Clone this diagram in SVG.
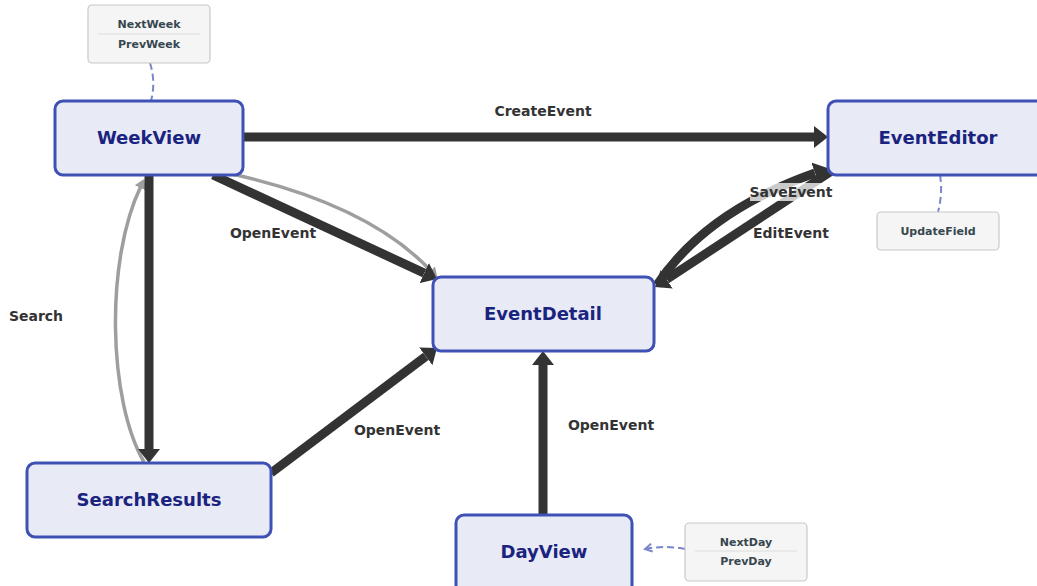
<svg xmlns="http://www.w3.org/2000/svg" width="1037" height="586" viewBox="0 0 1037 586">
<style>
.node rect{fill:#e8eaf6;stroke:#3f51b5;stroke-width:3}
.node text{font-family:"DejaVu Sans",Verdana,sans-serif;font-weight:bold;font-size:18px;fill:#1a237e;text-anchor:middle;dominant-baseline:central}
.note rect{fill:#f5f5f5;stroke:#c8c8c8;stroke-width:1.2}
.note line{stroke:#dcdcdc;stroke-width:1}
.note text{font-family:"DejaVu Sans",Verdana,sans-serif;font-weight:bold;font-size:11px;fill:#37474f;text-anchor:middle;dominant-baseline:central}
.edge{fill:none;stroke:#333;stroke-width:9;marker-end:url(#ah)}
.back{fill:none;stroke:#9e9e9e;stroke-width:3.5;marker-end:url(#ahg)}
.dash{fill:none;stroke:#7986cb;stroke-width:2;stroke-dasharray:7 4}
.lbl{font-family:"DejaVu Sans",Verdana,sans-serif;font-weight:bold;font-size:14px;fill:#333;text-anchor:middle;dominant-baseline:central}
</style>
<defs>
<marker id="ah" viewBox="0 0 14 22" refX="0" refY="11" markerWidth="14" markerHeight="22" markerUnits="userSpaceOnUse" orient="auto">
<path d="M0,0 L14,11 L0,22 z" fill="#333"/>
</marker>
<marker id="ahg" viewBox="0 0 10 12" refX="2" refY="6" markerWidth="10" markerHeight="12" markerUnits="userSpaceOnUse" orient="auto">
<path d="M0,0 L10,6 L0,12 z" fill="#9e9e9e"/>
</marker>
<marker id="ahd" viewBox="0 0 10 10" refX="8" refY="5" markerWidth="10" markerHeight="10" markerUnits="userSpaceOnUse" orient="auto">
<path d="M1,1 L8,5 L1,9" fill="none" stroke="#7986cb" stroke-width="2"/>
</marker>
</defs>
<g id="connectors">
<path class="back" d="M144,462 C108,400 105,260 141,186"/>
<path class="back" d="M232,174 Q370,205 432,272"/>
<path class="edge" d="M243,137 L814,137"/>
<path class="edge" d="M213,175 L424.3,273.1"/>
<path class="edge" d="M149,175 L149,449"/>
<path class="edge" d="M271,473 L425.8,356.4"/>
<path class="edge" d="M543,515 L543,365"/>
<path class="edge" d="M657,285 Q705,212 815,173"/>
<path class="edge" d="M830,172 L666.7,279.3"/>
<path class="dash" d="M150,63 Q156,82 151,101"/>
<path class="dash" d="M940,175 Q943,193 938,212"/>
<path class="dash" d="M685,549 Q665,545 645,549" marker-end="url(#ahd)"/>
<text class="lbl" x="543" y="111">CreateEvent</text>
<text class="lbl" x="273" y="233">OpenEvent</text>
<text class="lbl" x="36" y="316">Search</text>
<text class="lbl" x="397" y="430">OpenEvent</text>
<text class="lbl" x="611" y="425">OpenEvent</text>
<rect x="750" y="183" width="84" height="18" fill="#ffffff" fill-opacity="0.75"/>
<text class="lbl" x="791" y="192">SaveEvent</text>
<text class="lbl" x="791" y="233">EditEvent</text>
</g>
<g id="WeekView" class="node"><rect x="55" y="101" width="188" height="74" rx="8"/><text x="149" y="137">WeekView</text></g>
<g id="EventEditor" class="node"><rect x="828" y="101" width="220" height="74" rx="8"/><text x="938" y="137">EventEditor</text></g>
<g id="EventDetail" class="node"><rect x="433" y="277" width="221" height="74" rx="8"/><text x="543" y="313">EventDetail</text></g>
<g id="SearchResults" class="node"><rect x="27" y="463" width="244" height="74" rx="8"/><text x="149" y="499">SearchResults</text></g>
<g id="DayView" class="node"><rect x="456" y="515" width="176" height="80" rx="8"/><text x="544" y="551">DayView</text></g>
<g id="WeekViewNote" class="note"><rect x="88" y="5" width="122" height="58" rx="4"/><line x1="98" y1="34" x2="200" y2="34"/><text x="149" y="24">NextWeek</text><text x="149" y="44">PrevWeek</text></g>
<g id="EventEditorNote" class="note"><rect x="877" y="212" width="122" height="38" rx="4"/><text x="938" y="231">UpdateField</text></g>
<g id="DayViewNote" class="note"><rect x="685" y="523" width="122" height="58" rx="4"/><line x1="695" y1="551" x2="797" y2="551"/><text x="746" y="542">NextDay</text><text x="746" y="561">PrevDay</text></g>
</svg>
